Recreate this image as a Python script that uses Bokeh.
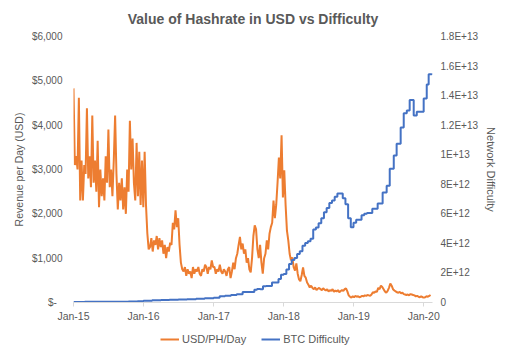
import pandas as pd
from bokeh.plotting import figure
from bokeh.layouts import column
from bokeh.models import (Range1d, LinearAxis, FixedTicker, Legend, LegendItem)
from bokeh.embed import file_html
from bokeh.resources import INLINE

# ---------------- data ----------------
# weekly revenue per PH/day in USD (starting 2015-01-01, every 7 days)
usd_2015 = [4830, 3100, 3300, 3000, 4620,
            2300, 3200, 2300, 3100,
            2900, 4380, 2800, 3300,
            2600, 4220, 2700, 3200, 2500,
            3650, 2150, 3000, 2400,
            2800, 2300, 3300, 2700,
            3900, 2600, 3000, 2400, 3200,
            4220, 2900, 2100, 2700,
            2300, 2800, 2100, 2600,
            2000, 3000, 2500, 4100, 3000,
            3700, 2700, 2300, 3600,
            2400, 3400, 2200, 3200, 2150]
usd_2016 = [3400, 2200, 1560, 1200,
            1250, 1450, 1150, 1400,
            1300, 1500, 1200, 1450, 1250,
            1400, 1100, 1300, 1000,
            1250, 1150, 1350, 1300,
            1800, 1650, 2080, 1700, 1900,
            1300, 900, 750, 700,
            800, 600, 750, 650,
            700, 550, 800, 650, 750,
            700, 800, 650, 600,
            750, 700, 850, 800,
            650, 800, 750, 950, 800]
usd_2017 = [800, 650, 750, 700,
            850, 700, 650, 750,
            700, 600, 750, 800, 550,
            700, 900, 750, 1000,
            1100, 1300, 1480, 1200,
            1330, 1100, 1200, 900, 1000,
            750, 680, 1000, 1500,
            1740, 1650, 1200, 1000, 1300,
            900, 650, 1000, 1100,
            1400, 1200, 1550, 1700,
            1800, 2300, 1900, 2200, 2700,
            3270, 2800, 3770, 2370]
usd_2018 = [2980, 2200, 1620, 1400,
            1100, 950, 1020, 800,
            720, 880, 650, 520, 480,
            620, 790, 600, 560,
            450, 400, 340, 380, 330,
            300, 340, 280, 310,
            330, 300, 280, 320,
            290, 270, 300, 250, 280,
            260, 300, 240, 270,
            250, 280, 230, 260,
            280, 260, 300, 320, 250,
            160, 130, 110, 140]
usd_2019 = [120, 150, 130, 140, 120,
            130, 150, 140, 160,
            150, 170, 160, 150,
            180, 230, 220, 250,
            240, 330, 300, 380, 350,
            300, 250, 220, 260,
            330, 430, 380, 300,
            270, 250, 230, 220, 240,
            210, 220, 190, 180,
            170, 180, 160, 190, 180,
            170, 160, 140, 150,
            130, 120, 140, 120]
usd_2020 = [110, 120, 140, 130, 150, 170]
usd_per_ph_day = usd_2015 + usd_2016 + usd_2017 + usd_2018 + usd_2019 + usd_2020
usd_dates = pd.date_range("2015-01-01", periods=len(usd_per_ph_day), freq="7D")

# BTC network difficulty (units of 1E+12), step changes
diff_dates = ["2015-01-01", "2015-03-01", "2015-05-01", "2015-07-01", "2015-09-01",
              "2015-10-15", "2015-12-01", "2016-01-01", "2016-02-15", "2016-04-01",
              "2016-05-15", "2016-07-01", "2016-08-15", "2016-10-01", "2016-11-15",
              "2017-01-01", "2017-02-01", "2017-03-01", "2017-04-01", "2017-05-01",
              "2017-06-01", "2017-07-01", "2017-08-01", "2017-08-15", "2017-09-01",
              "2017-09-15", "2017-10-01", "2017-11-01", "2017-11-20", "2017-12-05",
              "2017-12-18", "2018-01-01", "2018-01-15", "2018-01-29", "2018-02-12",
              "2018-02-26", "2018-03-12", "2018-03-26", "2018-04-09", "2018-04-23",
              "2018-05-07", "2018-05-21", "2018-06-04", "2018-06-18", "2018-07-02",
              "2018-07-16", "2018-07-30", "2018-08-13", "2018-08-27", "2018-09-10",
              "2018-09-24", "2018-10-08", "2018-10-22", "2018-11-05", "2018-11-19",
              "2018-12-03", "2018-12-17", "2018-12-31", "2019-01-14", "2019-01-28",
              "2019-02-11", "2019-02-25", "2019-03-11", "2019-03-25", "2019-04-08",
              "2019-04-22", "2019-05-06", "2019-06-01", "2019-06-22", "2019-07-08",
              "2019-07-29", "2019-08-13", "2019-09-03", "2019-09-19", "2019-10-05",
              "2019-10-20", "2019-11-10", "2019-11-26", "2020-01-01", "2020-01-17",
              "2020-01-27", "2020-02-12"]
diff_e12 = [0.04, 0.047, 0.048, 0.05, 0.055,
            0.062, 0.08, 0.11, 0.145, 0.17,
            0.19, 0.21, 0.22, 0.25, 0.29,
            0.32, 0.42, 0.46, 0.50, 0.56,
            0.71, 0.71, 0.86, 0.92, 0.89,
            1.10, 1.12, 1.35, 1.36, 1.59,
            1.87, 1.93, 2.23, 2.60, 2.87,
            3.01, 3.29, 3.46, 3.84, 4.02,
            4.14, 4.31, 4.94, 5.08, 5.36,
            5.70, 6.10, 6.39, 6.73, 6.90,
            7.15, 7.37, 7.37, 7.05, 6.65,
            5.70, 5.10, 5.40, 5.60, 5.60,
            5.90, 6.00, 6.05, 6.05, 6.35,
            6.35, 6.70, 7.45, 7.90, 9.05,
            9.95, 10.75, 11.85, 12.80, 13.00,
            13.70, 12.65, 12.90, 13.80, 14.75,
            15.45, 15.50]

left_ticks = [0, 1000, 2000, 3000, 4000, 5000, 6000]
left_labels = ["$-\u00a0\u00a0", "$1,000", "$2,000", "$3,000", "$4,000", "$5,000", "$6,000"]
right_ticks = [0, 2, 4, 6, 8, 10, 12, 14, 16, 18]
right_labels = ["0", "2E+12", "4E+12", "6E+12", "8E+12", "1E+13",
                "1.2E+13", "1.4E+13", "1.6E+13", "1.8E+13"]
year_ticks = ["2015-01-01", "2016-01-01", "2017-01-01", "2018-01-01",
              "2019-01-01", "2020-01-01"]
year_labels = ["Jan-15", "Jan-16", "Jan-17", "Jan-18", "Jan-19", "Jan-20"]
series_names = ["USD/PH/Day", "BTC Difficulty"]

# ---------------- styling ----------------
FONT = "Liberation Sans"
TXT = "#595959"
ORANGE = "#ED7D31"
BLUE = "#4472C4"

p = figure(width=506, height=326, x_axis_type="datetime",
           output_backend="svg", toolbar_location=None,
           x_range=Range1d(pd.Timestamp("2015-01-01"), pd.Timestamp("2020-02-16")),
           y_range=Range1d(0, 6000),
           min_border_left=73, min_border_right=74,
           min_border_top=36, min_border_bottom=24)
p.extra_y_ranges = {"diff": Range1d(0, 18)}

p.title.text = "Value of Hashrate in USD vs Difficulty"
p.title.align = "center"
p.title.vertical_align = "top"
p.title.text_font = FONT
p.title.text_font_size = "14px"
p.title.text_font_style = "bold"
p.title.text_color = TXT
p.title.standoff = 16

p.outline_line_color = None
p.xgrid.visible = False
p.ygrid.visible = False
p.background_fill_color = "white"
p.border_fill_color = "white"

r1 = p.line(usd_dates, usd_per_ph_day, line_color=ORANGE, line_width=2)
r2 = p.step([pd.Timestamp(d) for d in diff_dates], diff_e12, mode="after",
            line_color=BLUE, line_width=2, y_range_name="diff")

# x axis
xa = p.xaxis[0]
year_ms = [int(pd.Timestamp(d).value // 10**6) for d in year_ticks]
xa.ticker = FixedTicker(ticks=year_ms)
xa.major_label_overrides = dict(zip(year_ms, year_labels))
xa.axis_line_color = "#d9d9d9"
xa.major_tick_line_color = "#d9d9d9"
xa.major_tick_out = 4
xa.major_tick_in = 0
xa.minor_tick_line_color = None
xa.major_label_text_font = FONT
xa.major_label_text_font_size = "10.5px"
xa.major_label_text_color = TXT
xa.major_label_standoff = 3

# left axis
ya = p.yaxis[0]
ya.ticker = FixedTicker(ticks=left_ticks)
ya.major_label_overrides = dict(zip(left_ticks, left_labels))
ya.axis_line_color = None
ya.major_tick_line_color = None
ya.minor_tick_line_color = None
ya.major_tick_out = 0
ya.major_tick_in = 0
ya.major_label_text_font = FONT
ya.major_label_text_font_size = "10px"
ya.major_label_text_color = TXT
ya.major_label_standoff = 11
ya.axis_label = "Revenue per Day (USD)"
ya.axis_label_text_font = FONT
ya.axis_label_text_font_size = "10.5px"
ya.axis_label_text_font_style = "normal"
ya.axis_label_text_color = TXT
ya.axis_label_standoff = 4

# right axis
ra = LinearAxis(y_range_name="diff")
ra.ticker = FixedTicker(ticks=right_ticks)
ra.major_label_overrides = dict(zip(right_ticks, right_labels))
ra.axis_line_color = None
ra.major_tick_line_color = None
ra.minor_tick_line_color = None
ra.major_tick_out = 0
ra.major_tick_in = 0
ra.major_label_text_font = FONT
ra.major_label_text_font_size = "10px"
ra.major_label_text_color = TXT
ra.major_label_standoff = 8
ra.axis_label = "Network Difficulty"
ra.axis_label_text_font = FONT
ra.axis_label_text_font_size = "11px"
ra.axis_label_text_font_style = "normal"
ra.axis_label_text_color = TXT
ra.axis_label_standoff = 4
p.add_layout(ra, "right")

# legend strip below the chart (frame aligned with the main chart's frame)
lg = figure(width=506, height=26, output_backend="svg", toolbar_location=None,
            x_axis_type="datetime",
            x_range=Range1d(pd.Timestamp("2015-01-01"), pd.Timestamp("2020-02-16")),
            y_range=Range1d(-2, -1),
            min_border_left=73, min_border_right=74, min_border_top=0,
            min_border_bottom=0)
lg.axis.visible = False
lg.grid.visible = False
lg.outline_line_color = None
lg.background_fill_color = "white"
lg.border_fill_color = "white"
# same series, drawn out of view, only used as legend sources
g1 = lg.line(usd_dates, usd_per_ph_day, line_color=ORANGE, line_width=2)
g2 = lg.line([pd.Timestamp(d) for d in diff_dates], diff_e12,
             line_color=BLUE, line_width=2)
legend = Legend(items=[LegendItem(label=series_names[0], renderers=[g1]),
                       LegendItem(label=series_names[1], renderers=[g2])],
                orientation="horizontal", location=(87, 7),
                border_line_alpha=0, background_fill_alpha=0,
                glyph_width=19, glyph_height=10, label_standoff=3,
                spacing=15, padding=0, margin=0,
                label_text_font=FONT, label_text_font_size="11px",
                label_text_color=TXT)
lg.add_layout(legend, "center")

layout = column(p, lg, spacing=0)
open("out.html", "w").write(file_html(layout, INLINE))
